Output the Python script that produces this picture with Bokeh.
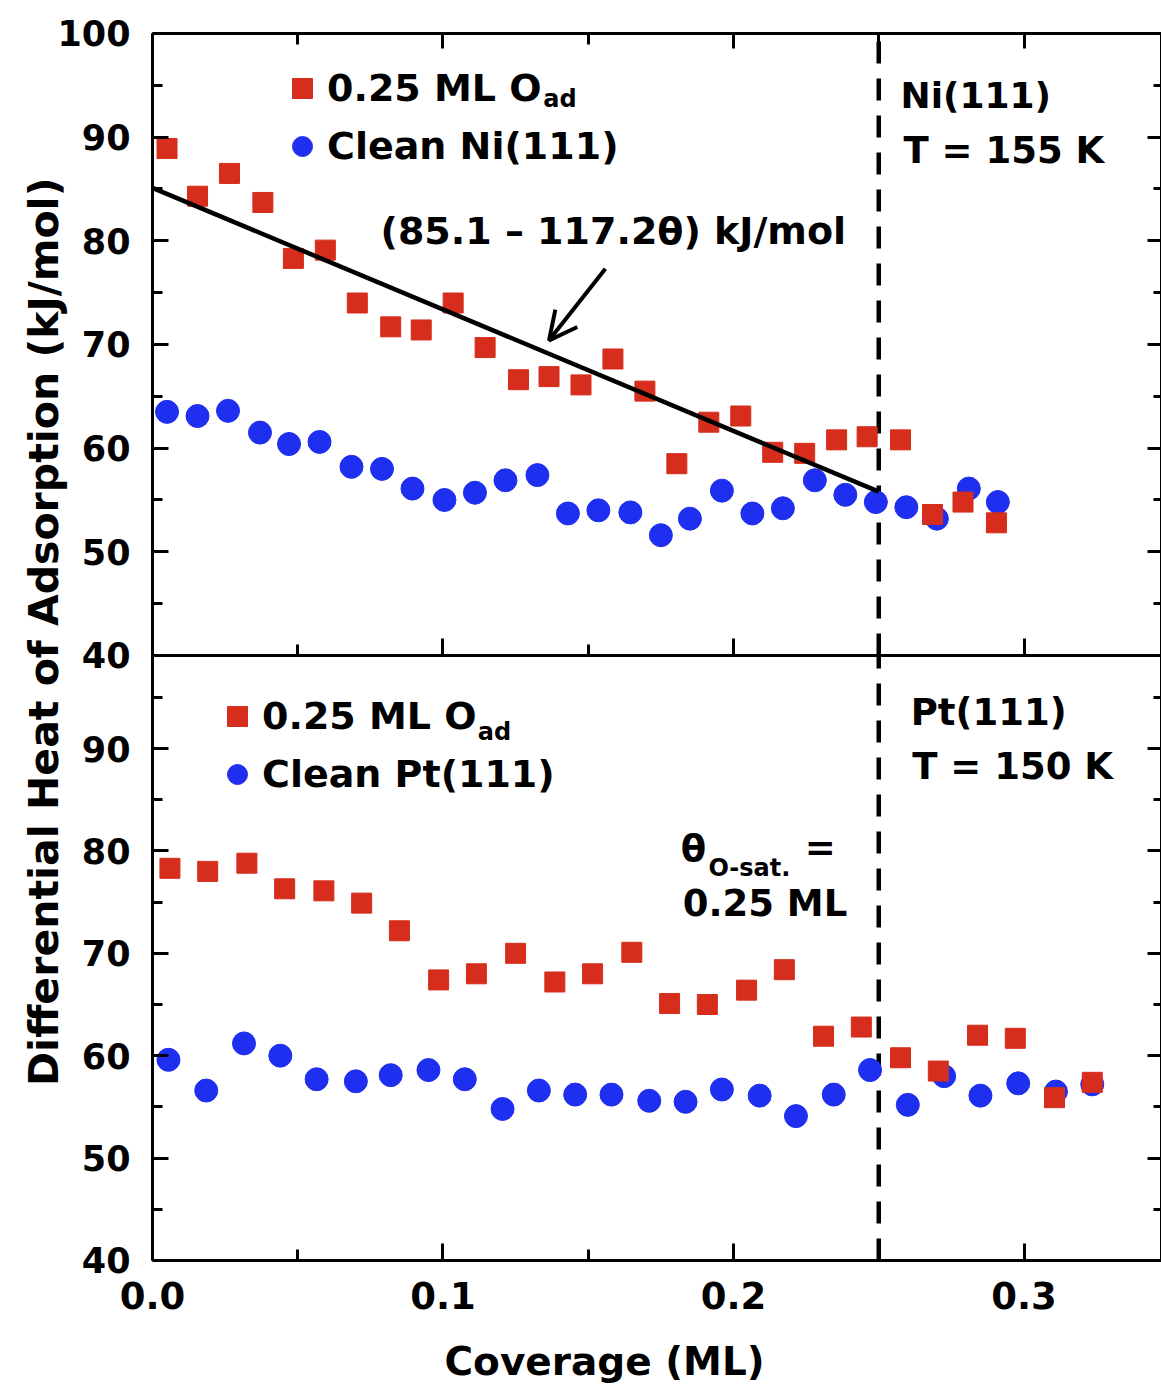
import math
from bokeh.plotting import figure
from bokeh.models import (Range1d, LinearAxis, FixedTicker, PrintfTickFormatter,
                          Label, Arrow, OpenHead, Legend, LegendItem)
from bokeh.embed import file_html
from bokeh.resources import INLINE

# ---------------- data ----------------
# Upper panel: Ni(111), T = 155 K
ni_oad_x = [0.005, 0.0155, 0.0265, 0.038, 0.0485, 0.0595, 0.0705, 0.082, 0.0925, 0.1035,
            0.1145, 0.126, 0.1365, 0.1475, 0.1585, 0.1695, 0.1805, 0.1915, 0.2025, 0.2135,
            0.2245, 0.2355, 0.246, 0.2575, 0.2685, 0.279, 0.2905]
ni_oad_y = [88.9, 84.3, 86.5, 83.7, 78.3, 79.1, 74.0, 71.7, 71.4, 74.0,
            69.7, 66.6, 66.9, 66.1, 68.6, 65.5, 58.5, 62.5, 63.1, 59.6,
            59.5, 60.8, 61.1, 60.8, 53.6, 54.8, 52.8]
ni_clean_x = [0.005, 0.0155, 0.026, 0.037, 0.047, 0.0575, 0.0685, 0.079, 0.0895, 0.1005,
              0.111, 0.1215, 0.1325, 0.143, 0.1535, 0.1645, 0.175, 0.185, 0.196, 0.2065,
              0.217, 0.228, 0.2385, 0.249, 0.2595, 0.27, 0.281, 0.291]
ni_clean_y = [63.5, 63.1, 63.6, 61.5, 60.4, 60.6, 58.2, 58.0, 56.1, 55.0,
              55.7, 56.9, 57.4, 53.7, 54.0, 53.8, 51.6, 53.2, 55.9, 53.7,
              54.2, 56.9, 55.5, 54.8, 54.3, 53.2, 56.1, 54.8]
fit_x = [0.0, 0.25]
fit_y = [85.1, 55.8]          # (85.1 - 117.2*theta)

# Lower panel: Pt(111), T = 150 K
pt_oad_x = [0.006, 0.019, 0.0325, 0.0455, 0.059, 0.072, 0.085, 0.0985, 0.1115, 0.125,
            0.1385, 0.1515, 0.165, 0.178, 0.191, 0.2045, 0.2175, 0.231, 0.244, 0.2575,
            0.2705, 0.284, 0.297, 0.3105, 0.3235]
pt_oad_y = [78.3, 78.0, 78.8, 76.3, 76.1, 74.9, 72.2, 67.4, 68.0, 70.0,
            67.2, 68.0, 70.1, 65.1, 65.0, 66.4, 68.4, 61.9, 62.8, 59.8,
            58.5, 62.0, 61.7, 55.9, 57.4]
pt_clean_x = [0.0055, 0.0185, 0.0315, 0.044, 0.0565, 0.07, 0.082, 0.095, 0.1075, 0.1205,
              0.133, 0.1455, 0.158, 0.171, 0.1835, 0.196, 0.209, 0.2215, 0.2345, 0.247,
              0.26, 0.2725, 0.285, 0.298, 0.311, 0.3235]
pt_clean_y = [59.6, 56.6, 61.2, 60.0, 57.7, 57.5, 58.1, 58.6, 57.7, 54.8,
              56.6, 56.2, 56.2, 55.6, 55.5, 56.7, 56.1, 54.1, 56.2, 58.6,
              55.2, 58.0, 56.1, 57.3, 56.5, 57.2]

x_ticks = [0.0, 0.1, 0.2, 0.3]
x_minor = [0.05, 0.15, 0.25]
top_yticks = [40, 50, 60, 70, 80, 90, 100]
bot_yticks = [40, 50, 60, 70, 80, 90]
y_minor = [45, 55, 65, 75, 85, 95]
saturation = 0.25

# ---------------- styling / layout ----------------
RED = "#d62d1c"
BLUE = "#1f2ff0"
FONT = "DejaVu Sans"
W, H = 1161, 1384
X_RANGE = (-0.05232, 0.34733)   # x = 0 at 152 px, 2905 px per unit
X_RIGHT = 0.3475                # right edge of the plot box
BOT_RANGE = (27.89, 163.05)     # lower panel: 40 at 1260 px, 10.24 px per unit
TOP_RANGE = (-30.32, 103.18)    # upper panel: 40 at 655 px, 100 at 33 px
BOUNDARY = 99.08                # top of lower panel, in lower-panel units

p = figure(width=W, height=H, output_backend="svg", toolbar_location=None,
           x_range=Range1d(*X_RANGE), y_range=Range1d(*BOT_RANGE),
           x_axis_location=None, y_axis_location=None, min_border=0)
p.extra_y_ranges = {"top": Range1d(*TOP_RANGE)}
p.outline_line_color = None
p.background_fill_color = "white"
p.border_fill_color = "white"
p.xgrid.visible = False
p.ygrid.visible = False


def style_axis(ax, labels=True, size="35px", tin=16, min_in=10):
    ax.axis_line_width = 3
    ax.major_tick_line_width = 3
    ax.minor_tick_line_width = 3
    ax.major_tick_in = tin
    ax.major_tick_out = 0
    ax.minor_tick_in = min_in
    ax.minor_tick_out = 0
    ax.major_label_text_font = FONT
    ax.major_label_text_font_style = "bold"
    ax.major_label_text_font_size = size
    ax.major_label_text_color = "black" if labels else None
    return ax


# left axes
ax = LinearAxis(y_range_name="top", fixed_location=0, bounds=(40, 100),
                ticker=FixedTicker(ticks=top_yticks, minor_ticks=y_minor), major_label_standoff=22)
p.add_layout(style_axis(ax), "left")
ax = LinearAxis(fixed_location=0, bounds=(40, BOUNDARY),
                ticker=FixedTicker(ticks=bot_yticks, minor_ticks=y_minor), major_label_standoff=22)
p.add_layout(style_axis(ax), "left")
# right axes (ticks only)
ax = LinearAxis(y_range_name="top", fixed_location=X_RIGHT, bounds=(40, 100),
                ticker=FixedTicker(ticks=top_yticks, minor_ticks=y_minor))
p.add_layout(style_axis(ax, labels=False, tin=14, min_in=8), "right")
ax = LinearAxis(fixed_location=X_RIGHT, bounds=(40, BOUNDARY),
                ticker=FixedTicker(ticks=bot_yticks, minor_ticks=y_minor))
p.add_layout(style_axis(ax, labels=False, tin=14, min_in=8), "right")
# x axes
ax = LinearAxis(fixed_location=40, bounds=(0, X_RIGHT),
                ticker=FixedTicker(ticks=x_ticks, minor_ticks=x_minor),
                formatter=PrintfTickFormatter(format="%.1f"), major_label_standoff=22)
p.add_layout(style_axis(ax, size="37px", tin=17, min_in=11), "below")
ax = LinearAxis(y_range_name="top", fixed_location=40, bounds=(0, X_RIGHT),
                ticker=FixedTicker(ticks=x_ticks, minor_ticks=x_minor))
p.add_layout(style_axis(ax, labels=False, tin=17, min_in=11), "below")
ax = LinearAxis(y_range_name="top", fixed_location=100, bounds=(0, X_RIGHT),
                ticker=FixedTicker(ticks=x_ticks, minor_ticks=x_minor))
p.add_layout(style_axis(ax, labels=False, tin=15, min_in=11), "above")

# saturation coverage line, spanning both panels
p.segment(x0=[saturation], y0=[40], x1=[saturation], y1=[100], y_range_name="top",
          line_color="black", line_width=4.5, line_dash="22 15")
p.segment(x0=[saturation], y0=[40], x1=[saturation], y1=[BOUNDARY],
          line_color="black", line_width=4.5, line_dash="22 15")

# data
r_ni_c = p.scatter(ni_clean_x, ni_clean_y, marker="circle", size=23, color=BLUE, y_range_name="top")
r_ni_o = p.scatter(ni_oad_x, ni_oad_y, marker="square", size=20, color=RED, y_range_name="top")
p.line(fit_x, fit_y, line_color="black", line_width=4.5, y_range_name="top")
r_pt_c = p.scatter(pt_clean_x, pt_clean_y, marker="circle", size=23, color=BLUE)
r_pt_o = p.scatter(pt_oad_x, pt_oad_y, marker="square", size=20, color=RED)


def legend(items, loc):
    lg = Legend(items=items, location=loc, glyph_width=50, glyph_height=50, spacing=8,
                padding=0, margin=0, label_standoff=0, border_line_color=None,
                background_fill_alpha=0, label_text_font=FONT, label_text_font_style="bold",
                label_text_font_size="38px", label_text_color="black")
    p.add_layout(lg)


legend([LegendItem(label="0.25 ML O", renderers=[r_ni_o]),
        LegendItem(label="Clean Ni(111)", renderers=[r_ni_c])], (277, 1213))
legend([LegendItem(label="0.25 ML O", renderers=[r_pt_o]),
        LegendItem(label="Clean Pt(111)", renderers=[r_pt_c])], (212, 585))


def label(x, y, text, size="37px", rng="default", align="left", angle=0.0, baseline="alphabetic"):
    p.add_layout(Label(x=x, y=y, text=text, y_range_name=rng, text_font=FONT,
                       text_font_style="bold", text_font_size=size, text_align=align,
                       text_baseline=baseline, angle=angle, text_color="black"))


# subscripts of the legends
label(0.1345, 93.7, "ad", size="24px", rng="top")
label(0.1120, 91.6, "ad", size="24px")

# annotations, upper panel
label(0.0785, 80.9, "(85.1 \u2013 117.2\u03b8) kJ/mol", size="38px", rng="top")
p.add_layout(Arrow(end=OpenHead(size=28, line_width=4, line_color="black"),
                   x_start=0.1559, y_start=77.3, x_end=0.1365, y_end=70.4,
                   line_width=4, line_color="black", y_range_name="top"))
label(0.2575, 94.0, "Ni(111)", size="36px", rng="top")
label(0.2585, 88.75, "T = 155 K", rng="top")

# annotations, lower panel
label(0.2610, 93.5, "Pt(111)")
label(0.2615, 88.2, "T = 150 K")
label(0.1818, 80.25, "\u03b8", size="37px")
label(0.1914, 78.3, "O-sat.", size="24px")
label(0.2245, 80.3, "=", size="37px")
label(0.1825, 74.85, "0.25 ML")

# axis titles
label(-0.0375, 101.4, "Differential Heat of Adsorption (kJ/mol)", size="41px",
      align="center", angle=math.pi / 2, baseline="middle")
label(0.1556, 30.15, "Coverage (ML)", size="39px", align="center")

open("out.html", "w").write(file_html(p, INLINE))
